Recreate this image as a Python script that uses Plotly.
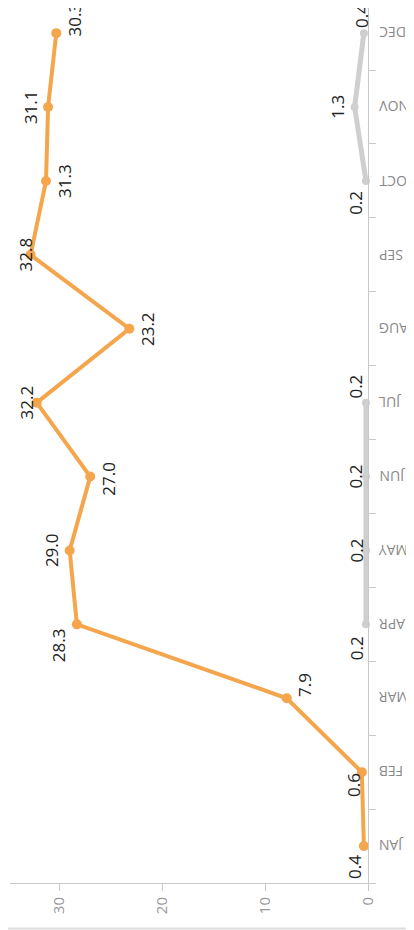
import plotly.graph_objects as go

months = ["JAN", "FEB", "MAR", "APR", "MAY", "JUN", "JUL", "AUG", "SEP", "OCT", "NOV", "DEC"]
orange_vals = [0.4, 0.6, 7.9, 28.3, 29.0, 27.0, 32.2, 23.2, 32.8, 31.3, 31.1, 30.3]
gray_vals = [None, None, None, 0.2, 0.2, 0.2, 0.2, None, None, 0.2, 1.3, 0.4]
value_ticks = [0, 10, 20, 30]

# label nudges in pixels (xshift, yshift)
orange_off = [(-10, -21), (-9, -13), (18, 13), (-19, -21), (-18, 0), (18, -2),
              (-10, 0), (18, 0), (-5, 0), (19, 0), (-18, 0), (18, 14)]
gray_off = [None, None, None, (-10, -24), (-10, 0), (-10, 0), (-10, 16),
            None, None, (-10, -22), (-18, 0), (-3, 17)]

ORANGE = "#F5A54C"
GRAY = "#CFCFCF"
AXIS = "#C8C8C8"
FONT = "Open Sans"

fig = go.Figure()
fig.add_trace(go.Scatter(x=gray_vals, y=months, mode="lines+markers",
                         line=dict(color=GRAY, width=5), marker=dict(color=GRAY, size=8),
                         connectgaps=False, cliponaxis=False, hoverinfo="skip"))
fig.add_trace(go.Scatter(x=orange_vals, y=months, mode="lines+markers",
                         line=dict(color=ORANGE, width=4), marker=dict(color=ORANGE, size=10),
                         cliponaxis=False, hoverinfo="skip"))

annots = []
for m, v, off in zip(months, orange_vals, orange_off):
    annots.append(dict(x=v, y=m, text=f"{v:.1f}", showarrow=False, textangle=-90,
                       xshift=off[0], yshift=off[1],
                       font=dict(family=FONT, size=17, color="#222")))
for m, v, off in zip(months, gray_vals, gray_off):
    if v is None:
        continue
    annots.append(dict(x=v, y=m, text=f"{v:.1f}", showarrow=False, textangle=-90,
                       xshift=off[0], yshift=off[1],
                       font=dict(family=FONT, size=17, color="#222")))
# month names, upside down, to the right of the axis
for m in months:
    annots.append(dict(x=1, xref="paper", y=m, text=m, showarrow=False, textangle=180,
                       xanchor="left", xshift=9,
                       font=dict(family=FONT, size=14, color="#888")))

# page body has an 8px margin, so the figure is a bit smaller than the window
fig.update_layout(
    width=406, height=922,
    margin=dict(l=2, r=46, t=0, b=47),
    paper_bgcolor="white", plot_bgcolor="white",
    showlegend=False,
    annotations=annots,
    xaxis=dict(range=[34.8, 0], tickvals=value_ticks, tickangle=-90, automargin=False,
               showgrid=False, zeroline=False, showline=True, linecolor=AXIS, linewidth=1,
               ticks="outside", ticklen=7, tickcolor=AXIS,
               tickfont=dict(family=FONT, size=15, color="#999")),
    yaxis=dict(type="category", categoryorder="array", categoryarray=months,
               range=[-0.5, 11.34], side="right", automargin=False,
               tickson="boundaries", showgrid=False, zeroline=False, showticklabels=False,
               showline=True, linecolor=AXIS, linewidth=1,
               ticks="outside", ticklen=7, tickcolor=AXIS),
    shapes=[dict(type="line", xref="paper", yref="paper",
                 x0=-0.03, x1=1.13, y0=-0.052, y1=-0.052,
                 line=dict(color="#DDDDDD", width=2))],
)

fig.write_html("out.html")
